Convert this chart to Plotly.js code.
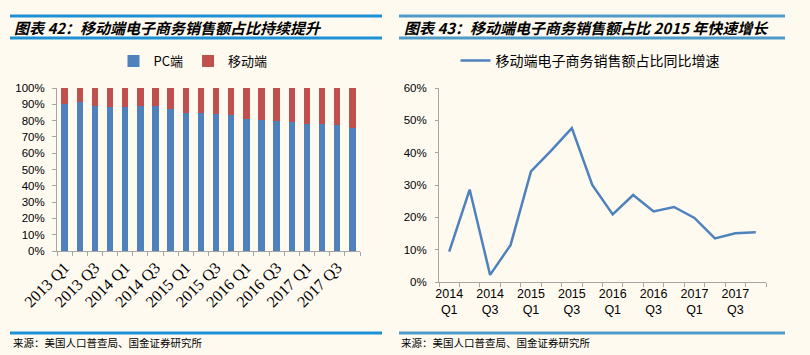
<!DOCTYPE html>
<html>
<head>
<meta charset="utf-8">
<script src="https://cdn.plot.ly/plotly-3.0.1.min.js"></script>
<style>
html,body{margin:0;padding:0;background:#FEFAF0;}
#chart{width:810px;height:355px;}
</style>
</head>
<body>
<div id="chart"></div>
<script>
// ---- Data (left chart) ----
var quarters = ["2013 Q1","2013 Q2","2013 Q3","2013 Q4","2014 Q1","2014 Q2","2014 Q3","2014 Q4",
                "2015 Q1","2015 Q2","2015 Q3","2015 Q4","2016 Q1","2016 Q2","2016 Q3","2016 Q4",
                "2017 Q1","2017 Q2","2017 Q3","2017 Q4"];
var pcShare = [90.0, 91.2, 89.1, 88.5, 88.1, 89.1, 89.1, 87.3, 84.4, 84.6,
               84.0, 83.2, 80.9, 80.5, 79.7, 78.9, 77.7, 77.7, 77.0, 75.6];
var mobileShare = [10.0, 8.8, 10.9, 11.5, 11.9, 10.9, 10.9, 12.7, 15.6, 15.4,
                   16.0, 16.8, 19.1, 19.5, 20.3, 21.1, 22.3, 22.3, 23.0, 24.4];
var leftTickText = ["2013 Q1","","2013 Q3","","2014 Q1","","2014 Q3","","2015 Q1","",
                    "2015 Q3","","2016 Q1","","2016 Q3","","2017 Q1","","2017 Q3",""];

// ---- Data (right chart) ----
var quarters2 = ["2014 Q1","2014 Q2","2014 Q3","2014 Q4","2015 Q1","2015 Q2","2015 Q3","2015 Q4",
                 "2016 Q1","2016 Q2","2016 Q3","2016 Q4","2017 Q1","2017 Q2","2017 Q3","2017 Q4"];
var mobileGrowth = [9.4, 28.6, 2.2, 11.4, 34.2, 40.7, 47.6, 30.0,
                    20.9, 26.9, 21.8, 23.2, 19.8, 13.5, 15.1, 15.4];
var rightTickText = ["2014<br>Q1","","2014<br>Q3","","2015<br>Q1","","2015<br>Q3","",
                     "2016<br>Q1","","2016<br>Q3","","2017<br>Q1","","2017<br>Q3",""];

var W = 810, H = 355;
function px(x){return x/W;}
function py(y){return 1 - y/H;}

var cjk = '"Noto Sans CJK SC", "Noto Sans", sans-serif';
var axisGray = '#A6A6A6';

var traces = [
  {type:'bar', name:'PC端', x:quarters, y:pcShare, marker:{color:'#4F81BD'},
   xaxis:'x', yaxis:'y', legend:'legend', hoverinfo:'skip'},
  {type:'bar', name:'移动端', x:quarters, y:mobileShare, marker:{color:'#C0504D'},
   xaxis:'x', yaxis:'y', legend:'legend', hoverinfo:'skip'},
  {type:'scatter', mode:'lines', name:'移动端电子商务销售额占比同比增速', x:quarters2, y:mobileGrowth,
   line:{color:'#4F81BD', width:2.5}, xaxis:'x2', yaxis:'y2', legend:'legend2', hoverinfo:'skip'}
];

var layout = {
  width:W, height:H,
  margin:{l:0,r:0,t:0,b:0},
  paper_bgcolor:'#FEFAF0', plot_bgcolor:'rgba(0,0,0,0)',
  barmode:'stack', bargap:0.58,
  showlegend:true,
  font:{family:cjk, color:'#000'},
  xaxis:{
    domain:[px(57), px(360)], anchor:'y', type:'category', range:[-0.5, quarters.length-0.5],
    tickmode:'array', tickvals:quarters, ticktext:leftTickText,
    tickson:'boundaries', ticks:'outside', ticklen:4, tickcolor:axisGray,
    showline:true, linecolor:axisGray, linewidth:1, showgrid:false,
    tickangle:-45, tickfont:{family:'"Liberation Serif", serif', size:16, color:'#000'}
  },
  yaxis:{
    domain:[py(251), py(88)], anchor:'x', range:[0,100], dtick:10, ticksuffix:'%',
    ticks:'outside', ticklen:4, tickcolor:axisGray, showline:true, linecolor:axisGray,
    showgrid:false, zeroline:false, ticklabelstandoff:5,
    tickfont:{family:'"Liberation Sans", Arial, sans-serif', size:11.5, color:'#000'}
  },
  xaxis2:{
    domain:[px(439), px(766)], anchor:'y2', type:'category', range:[-0.5, quarters2.length-0.5],
    tickmode:'array', tickvals:quarters2, ticktext:rightTickText,
    tickson:'boundaries', ticks:'outside', ticklen:4, tickcolor:axisGray,
    showline:true, linecolor:axisGray, linewidth:1, showgrid:false, tickangle:0,
    tickfont:{family:'"Liberation Sans", Arial, sans-serif', size:12.5, color:'#000'}
  },
  yaxis2:{
    domain:[py(282), py(88)], anchor:'x2', range:[0,60], dtick:10, ticksuffix:'%',
    ticks:'outside', ticklen:3, tickcolor:axisGray, showline:true, linecolor:axisGray,
    showgrid:false, zeroline:false, ticklabelstandoff:6,
    tickfont:{family:'"Liberation Sans", Arial, sans-serif', size:11.5, color:'#000'}
  },
  legend:{orientation:'h', x:px(193), xanchor:'center', y:py(61), yanchor:'middle',
          font:{family:cjk, size:13, color:'#000'}, bgcolor:'rgba(0,0,0,0)',
          itemwidth:30, traceorder:'normal'},
  legend2:{orientation:'h', x:px(590), xanchor:'center', y:py(61), yanchor:'middle',
          font:{family:cjk, size:14, color:'#000'}, bgcolor:'rgba(0,0,0,0)'},
  shapes:[
    {type:'line', xref:'paper', yref:'paper', x0:px(10), x1:px(382), y0:py(16), y1:py(16), line:{color:'#1E90D6', width:3}},
    {type:'line', xref:'paper', yref:'paper', x0:px(10), x1:px(382), y0:py(38), y1:py(38), line:{color:'#1E90D6', width:3}},
    {type:'line', xref:'paper', yref:'paper', x0:px(399), x1:px(785), y0:py(16), y1:py(16), line:{color:'#4E9BC9', width:3}},
    {type:'line', xref:'paper', yref:'paper', x0:px(399), x1:px(785), y0:py(38), y1:py(38), line:{color:'#4E9BC9', width:3}},
    {type:'line', xref:'paper', yref:'paper', x0:px(10), x1:px(382), y0:py(333), y1:py(333), line:{color:'#1E90D6', width:3}},
    {type:'line', xref:'paper', yref:'paper', x0:px(399), x1:px(785), y0:py(333), y1:py(333), line:{color:'#4E9BC9', width:3}}
  ],
  annotations:[
    {xref:'paper', yref:'paper', x:px(12), y:py(27), xanchor:'left', yanchor:'middle', showarrow:false,
     text:'<b><i>图表 42：移动端电子商务销售额占比持续提升</i></b>', font:{family:cjk, size:15, color:'#000'}},
    {xref:'paper', yref:'paper', x:px(402), y:py(27), xanchor:'left', yanchor:'middle', showarrow:false,
     text:'<b><i>图表 43：移动端电子商务销售额占比 2015 年快速增长</i></b>', font:{family:cjk, size:15, color:'#000'}},
    {xref:'paper', yref:'paper', x:px(11), y:py(342), xanchor:'left', yanchor:'middle', showarrow:false,
     text:'来源：美国人口普查局、国金证券研究所', font:{family:cjk, size:10.5, color:'#000'}},
    {xref:'paper', yref:'paper', x:px(399), y:py(342), xanchor:'left', yanchor:'middle', showarrow:false,
     text:'来源：美国人口普查局、国金证券研究所', font:{family:cjk, size:10.5, color:'#000'}}
  ]
};

Plotly.newPlot('chart', traces, layout, {staticPlot:true, displayModeBar:false});
</script>
</body>
</html>
